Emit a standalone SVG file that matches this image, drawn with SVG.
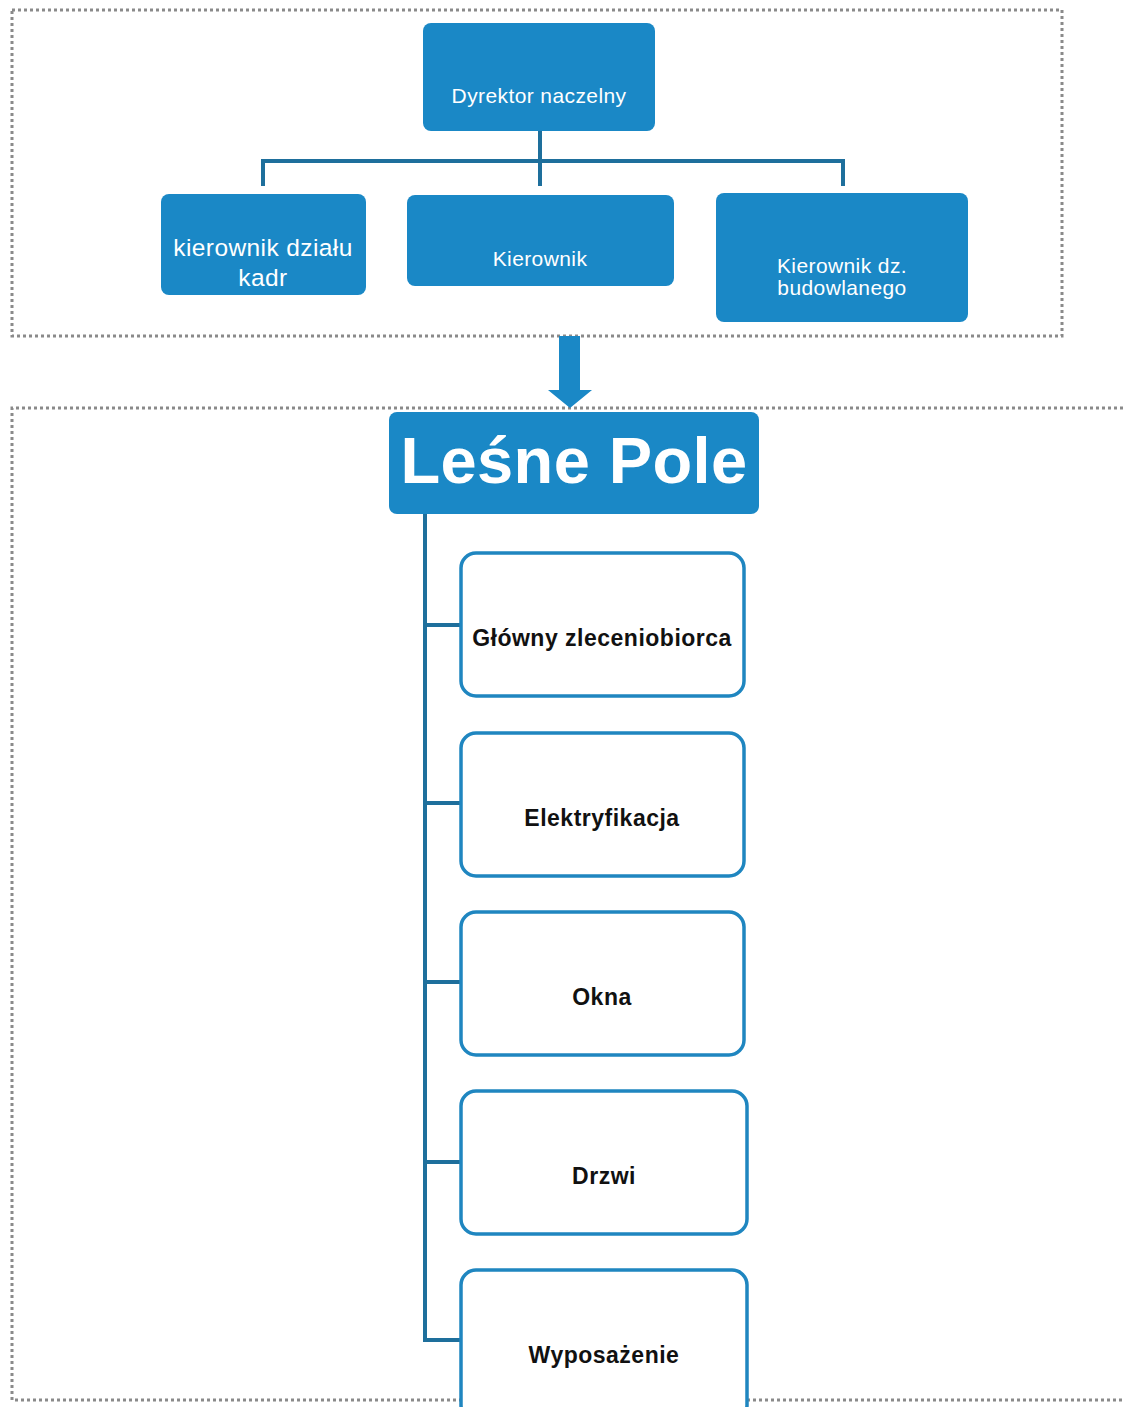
<svg xmlns="http://www.w3.org/2000/svg" width="1123" height="1407" viewBox="0 0 1123 1407">
<style>
.frame{fill:none;stroke:#8a8a8a;stroke-width:3;stroke-dasharray:3 3}
.blue{fill:#1a88c6}
.wt{fill:#fff;font-family:"Liberation Sans",Arial,sans-serif;text-anchor:middle;letter-spacing:0.4px}
.wbox{fill:#fff;stroke:#1f86c0;stroke-width:3.5}
.bt{fill:#111;font-family:"Liberation Sans",Arial,sans-serif;font-weight:bold;font-size:23px;letter-spacing:0.5px;text-anchor:middle}
.conn{fill:none;stroke:#1e6f9c;stroke-width:4}
</style>
<rect width="1123" height="1407" fill="#fff"/>
<rect class="frame" x="12" y="10" width="1050" height="326"/>
<path class="frame" d="M1123 408 H12 V1400 H1123"/>
<g id="connectors">
<path class="conn" d="M540 131 V186 M263 186 V161 H843 V186"/>
<path class="conn" d="M425 514 V1340 H460 M425 625 H460 M425 803 H460 M425 982 H460 M425 1162 H460"/>
<path class="blue" d="M559 336 H580 V390 H592 L570 408 L548 390 H559 Z"/>
</g>
<g id="dyrektor"><rect class="blue" x="423" y="23" width="232" height="108" rx="8"/><text class="wt" x="539" y="103" font-size="21">Dyrektor naczelny</text></g>
<g id="kadr"><rect class="blue" x="161" y="194" width="205" height="101" rx="8"/><text class="wt" x="263" y="256" font-size="24.5">kierownik działu</text><text class="wt" x="263" y="286" font-size="24.5">kadr</text></g>
<g id="kierownik"><rect class="blue" x="407" y="195" width="267" height="91" rx="8"/><text class="wt" x="540" y="266" font-size="21">Kierownik</text></g>
<g id="budowlanego"><rect class="blue" x="716" y="193" width="252" height="129" rx="8"/><text class="wt" x="842" y="273" font-size="21">Kierownik dz.</text><text class="wt" x="842" y="295" font-size="21">budowlanego</text></g>
<g id="lesne"><rect class="blue" x="389" y="412" width="370" height="102" rx="8"/><text class="wt" x="574" y="483" font-size="65" font-weight="bold" letter-spacing="0">Leśne Pole</text></g>
<g id="glowny"><rect class="wbox" x="461" y="553" width="283" height="143" rx="15"/><text class="bt" x="602" y="646">Główny zleceniobiorca</text></g>
<g id="elektryfikacja"><rect class="wbox" x="461" y="733" width="283" height="143" rx="15"/><text class="bt" x="602" y="826">Elektryfikacja</text></g>
<g id="okna"><rect class="wbox" x="461" y="912" width="283" height="143" rx="15"/><text class="bt" x="602" y="1005">Okna</text></g>
<g id="drzwi"><rect class="wbox" x="461" y="1091" width="286" height="143" rx="15"/><text class="bt" x="604" y="1184">Drzwi</text></g>
<g id="wyposazenie"><rect class="wbox" x="461" y="1270" width="286" height="150" rx="15"/><text class="bt" x="604" y="1363">Wyposażenie</text></g>
</svg>
